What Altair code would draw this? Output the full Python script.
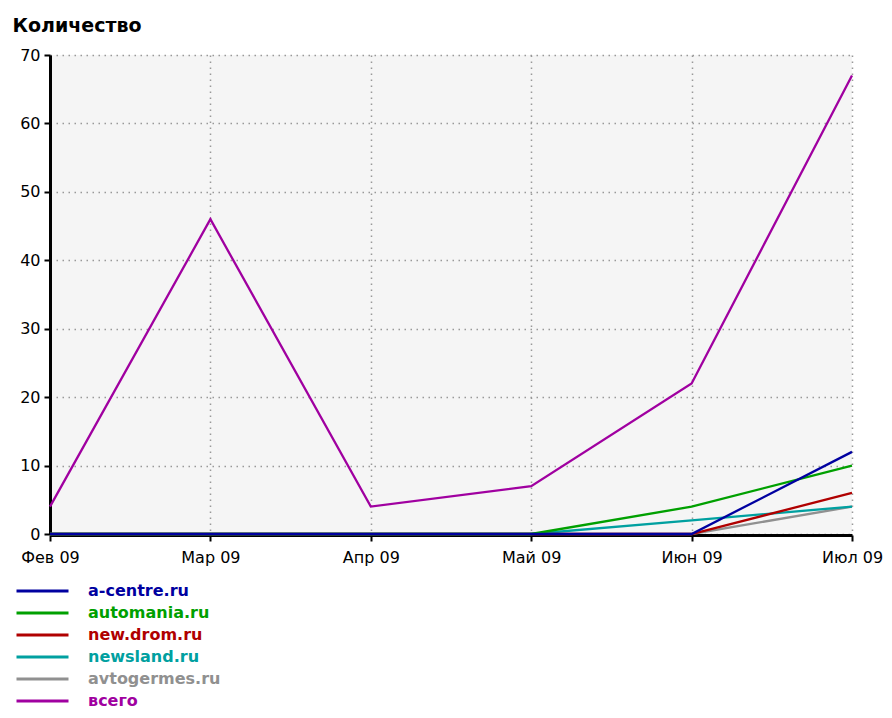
import altair as alt
import pandas as pd

months = ["Фев 09", "Мар 09", "Апр 09", "Май 09", "Июн 09", "Июл 09"]
series = ["a-centre.ru", "automania.ru", "new.drom.ru", "newsland.ru", "avtogermes.ru", "всего"]
colors = ["#0000a0", "#00a000", "#b00000", "#00a0a0", "#909090", "#a000a0"]

a_centre = [0, 0, 0, 0, 0, 12]
automania = [0, 0, 0, 0, 4, 10]
new_drom = [0, 0, 0, 0, 0, 6]
newsland = [0, 0, 0, 0, 2, 4]
avtogermes = [0, 0, 0, 0, 0, 4]
total = [4, 46, 4, 7, 22, 67]

y_ticks = [0, 10, 20, 30, 40, 50, 60, 70]

rows = []
for s, vals in zip(series, [a_centre, automania, new_drom, newsland, avtogermes, total]):
    for m, v in zip(months, vals):
        rows.append({"month": m, "site": s, "value": v})
df = pd.DataFrame(rows)

FONT = "DejaVu Sans"

x = alt.X(
    "month:N",
    sort=months,
    scale=alt.Scale(type="point", padding=0),
    axis=alt.Axis(title=None, labelAngle=0, labelFlush=False, labelOverlap=False,
                  labelPadding=8, offset=1, grid=True),
)
y = alt.Y(
    "value:Q",
    scale=alt.Scale(domain=[0, 70], nice=False, zero=True),
    axis=alt.Axis(values=y_ticks, title="Количество", titleAngle=0, titleX=-38, titleY=-24,
                  titleAlign="left", titleBaseline="alphabetic", titleFont=FONT,
                  titleFontSize=19, titleFontWeight="bold", titleColor="#000",
                  labelPadding=4),
)
color = alt.Color(
    "site:N",
    scale=alt.Scale(domain=series, range=colors),
    legend=alt.Legend(
        title=None, orient="none", legendX=-35, legendY=525, direction="vertical",
        symbolType="stroke", symbolSize=2704, symbolStrokeWidth=3,
        clipHeight=21.9, rowPadding=0, padding=0,
        labelFont=FONT, labelFontSize=16, labelFontWeight="bold", labelOffset=18,
        labelColor={"expr": "scale('color', datum.value)"},
    ),
)

base = alt.Chart(df)
layers = []
for s in reversed(series):
    layers.append(
        base.transform_filter(alt.datum.site == s)
        .mark_line(strokeWidth=2.3)
        .encode(x=x, y=y, color=color)
    )

chart = (
    alt.layer(*layers)
    .properties(width=802, height=479, autosize=alt.AutoSizeParams(type="none"),
                padding={"left": 42, "top": 47, "right": 32, "bottom": 176})
    .configure_view(fill="#f5f5f5", stroke=None)
    .configure_axis(
        labelFont=FONT, labelFontSize=16, labelColor="#000",
        domainColor="#000", domainWidth=3,
        tickColor="#000", tickWidth=2, tickSize=6,
        gridColor="#999", gridDash=[1.5, 4.5], gridWidth=1.5,
    )
)

chart.save("out.html", embed_options={"renderer": "svg", "actions": False})
